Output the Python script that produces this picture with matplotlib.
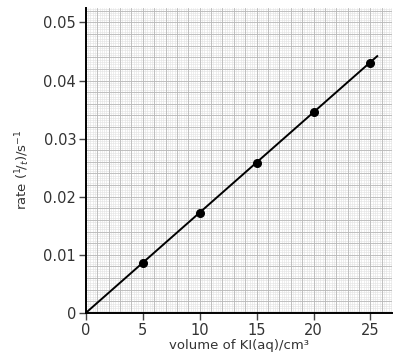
import matplotlib
matplotlib.use("Agg")
import matplotlib.pyplot as plt
import numpy as np

# data
volume = [5, 10, 15, 20, 25]
rate = [0.0086, 0.0172, 0.0258, 0.0345, 0.0431]
line_x = [0, 25.6]
line_y = [0, 0.0442]

xticks = [0, 5, 10, 15, 20, 25]
yticks = [0, 0.01, 0.02, 0.03, 0.04, 0.05]
yticklabels = ["0", "0.01", "0.02", "0.03", "0.04", "0.05"]

fig = plt.figure(figsize=(3.94, 3.6), dpi=100)
ax = fig.add_axes([0.218, 0.131, 0.777, 0.847])

# graph paper background
for x in np.arange(0, 27, 0.2):
    ax.axvline(x, color="#e2e2e2", lw=0.4, zorder=0)
for y in np.arange(0, 0.053, 0.0004):
    ax.axhline(y, color="#e2e2e2", lw=0.4, zorder=0)
for x in np.arange(0, 27, 1):
    ax.axvline(x, color="#b8b8b8", lw=0.6, zorder=0)
for y in np.arange(0, 0.053, 0.002):
    ax.axhline(y, color="#b8b8b8", lw=0.6, zorder=0)

ax.plot(line_x, line_y, color="black", lw=1.4, zorder=3)
ax.plot(volume, rate, "o", color="black", ms=5.5, zorder=4)

ax.set_xlim(0, 26.9)
ax.set_ylim(0, 0.0525)
ax.set_xticks(xticks)
ax.set_yticks(yticks)
ax.set_yticklabels(yticklabels)
ax.tick_params(labelsize=10.5, length=5, width=1, color="#444444", labelcolor="#333333", pad=2)

for s in ["top", "right"]:
    ax.spines[s].set_visible(False)
for s in ["left", "bottom"]:
    ax.spines[s].set_linewidth(1.4)

ax.set_xlabel("volume of KI(aq)/cm³", fontsize=9.5, color="#333333", labelpad=1)
ax.set_ylabel(r"rate ($^1\!/_t$)/s$^{-1}$", fontsize=9.5, color="#333333")
ax.yaxis.set_label_coords(-0.175, 0.47)

fig.savefig("out.png", dpi=100)
